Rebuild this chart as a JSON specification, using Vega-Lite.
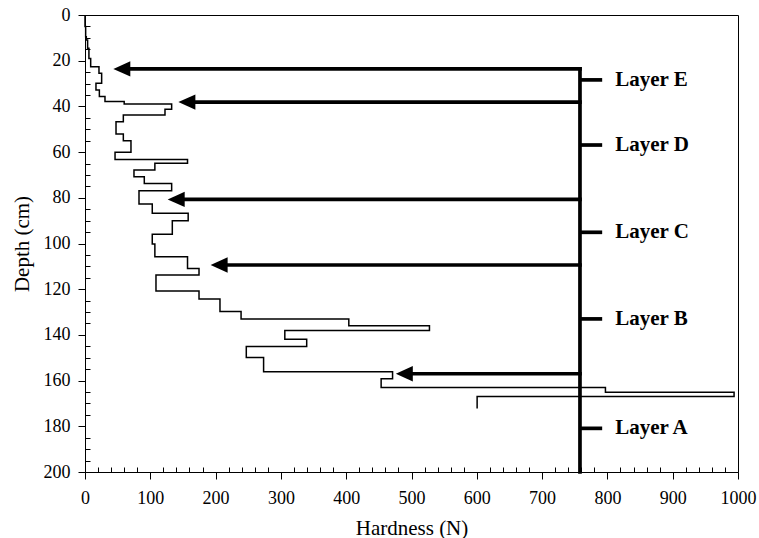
{
  "$schema": "https://vega.github.io/schema/vega-lite/v6.json",
  "width": 653,
  "height": 457,
  "autosize": {"type": "none"},
  "padding": {"left": 85, "top": 15, "right": 21, "bottom": 66},
  "background": "white",
  "view": {"stroke": "black", "strokeWidth": 1},
  "resolve": {"axis": {"x": "independent", "y": "independent"}},
  "datasets": {
    "profile": [
      {"i": 1, "h": 0, "d": 0}, {"i": 2, "h": 0, "d": 5},
      {"i": 3, "h": 1, "d": 5}, {"i": 4, "h": 1, "d": 9.5},
      {"i": 5, "h": 2, "d": 9.5}, {"i": 6, "h": 2, "d": 10.9},
      {"i": 7, "h": 4, "d": 10.9}, {"i": 8, "h": 4, "d": 14.6},
      {"i": 9, "h": 6, "d": 14.6}, {"i": 10, "h": 6, "d": 19},
      {"i": 11, "h": 8.7, "d": 19}, {"i": 12, "h": 8.7, "d": 22.6},
      {"i": 13, "h": 21.4, "d": 22.6}, {"i": 14, "h": 21.4, "d": 25.5},
      {"i": 15, "h": 25.5, "d": 25.5}, {"i": 16, "h": 25.5, "d": 29.9},
      {"i": 17, "h": 16.8, "d": 29.9}, {"i": 18, "h": 16.8, "d": 32.8},
      {"i": 19, "h": 22, "d": 32.8}, {"i": 20, "h": 22, "d": 35.7},
      {"i": 21, "h": 30.6, "d": 35.7}, {"i": 22, "h": 30.6, "d": 37.9},
      {"i": 23, "h": 60, "d": 37.9}, {"i": 24, "h": 60, "d": 39},
      {"i": 25, "h": 132.7, "d": 39}, {"i": 26, "h": 132.7, "d": 41.3},
      {"i": 27, "h": 122.5, "d": 41.3}, {"i": 28, "h": 122.5, "d": 43.8},
      {"i": 29, "h": 58.7, "d": 43.8}, {"i": 30, "h": 58.7, "d": 46.7},
      {"i": 31, "h": 47.5, "d": 46.7}, {"i": 32, "h": 47.5, "d": 52.1},
      {"i": 33, "h": 58.7, "d": 52.1}, {"i": 34, "h": 58.7, "d": 55},
      {"i": 35, "h": 70.4, "d": 55}, {"i": 36, "h": 70.4, "d": 60.1},
      {"i": 37, "h": 46, "d": 60.1}, {"i": 38, "h": 46, "d": 63.2},
      {"i": 39, "h": 157, "d": 63.2}, {"i": 40, "h": 157, "d": 64.9},
      {"i": 41, "h": 107, "d": 64.9}, {"i": 42, "h": 107, "d": 67.8},
      {"i": 43, "h": 75, "d": 67.8}, {"i": 44, "h": 75, "d": 70.8},
      {"i": 45, "h": 90.8, "d": 70.8}, {"i": 46, "h": 90.8, "d": 73.7},
      {"i": 47, "h": 132.7, "d": 73.7}, {"i": 48, "h": 132.7, "d": 76.9},
      {"i": 49, "h": 82.7, "d": 76.9}, {"i": 50, "h": 82.7, "d": 82.7},
      {"i": 51, "h": 103, "d": 82.7}, {"i": 52, "h": 103, "d": 86.8},
      {"i": 53, "h": 158, "d": 86.8}, {"i": 54, "h": 158, "d": 90},
      {"i": 55, "h": 133.7, "d": 90}, {"i": 56, "h": 133.7, "d": 96},
      {"i": 57, "h": 103, "d": 96}, {"i": 58, "h": 103, "d": 100.2},
      {"i": 59, "h": 107, "d": 100.2}, {"i": 60, "h": 107, "d": 105.8},
      {"i": 61, "h": 157, "d": 105.8}, {"i": 62, "h": 157, "d": 110.9},
      {"i": 63, "h": 174.6, "d": 110.9}, {"i": 64, "h": 174.6, "d": 113.8},
      {"i": 65, "h": 108.7, "d": 113.8}, {"i": 66, "h": 108.7, "d": 120.8},
      {"i": 67, "h": 174.6, "d": 120.8}, {"i": 68, "h": 174.6, "d": 124.3},
      {"i": 69, "h": 206.7, "d": 124.3}, {"i": 70, "h": 206.7, "d": 129.8},
      {"i": 71, "h": 239, "d": 129.8}, {"i": 72, "h": 239, "d": 133},
      {"i": 73, "h": 404, "d": 133}, {"i": 74, "h": 404, "d": 136},
      {"i": 75, "h": 527.5, "d": 136}, {"i": 76, "h": 527.5, "d": 138.1},
      {"i": 77, "h": 306, "d": 138.1}, {"i": 78, "h": 306, "d": 141.9},
      {"i": 79, "h": 339.5, "d": 141.9}, {"i": 80, "h": 339.5, "d": 145.1},
      {"i": 81, "h": 247, "d": 145.1}, {"i": 82, "h": 247, "d": 149.9},
      {"i": 83, "h": 273.5, "d": 149.9}, {"i": 84, "h": 273.5, "d": 156.1},
      {"i": 85, "h": 471, "d": 156.1}, {"i": 86, "h": 471, "d": 159.2},
      {"i": 87, "h": 453.5, "d": 159.2}, {"i": 88, "h": 453.5, "d": 163},
      {"i": 89, "h": 797, "d": 163}, {"i": 90, "h": 797, "d": 165.1},
      {"i": 91, "h": 994, "d": 165.1}, {"i": 92, "h": 994, "d": 167},
      {"i": 93, "h": 600.5, "d": 167}, {"i": 94, "h": 600.5, "d": 172.2}
    ],
    "arrows": [
      {"tip": 43.4, "base": 63.4, "end": 758, "d": 23.6},
      {"tip": 143, "base": 163, "end": 758, "d": 38.1},
      {"tip": 126.6, "base": 146.6, "end": 758, "d": 80.7},
      {"tip": 192.4, "base": 212.4, "end": 758, "d": 109.4},
      {"tip": 476, "base": 496, "end": 758, "d": 157}
    ],
    "spine": [
      {"x": 758, "d0": 23.6, "d1": 200}
    ],
    "layers": [
      {"name": "Layer E", "d": 28.4, "x0": 758, "x1": 792, "tx": 812},
      {"name": "Layer D", "d": 56.9, "x0": 758, "x1": 792, "tx": 812},
      {"name": "Layer C", "d": 95.1, "x0": 758, "x1": 792, "tx": 812},
      {"name": "Layer B", "d": 133, "x0": 758, "x1": 792, "tx": 812},
      {"name": "Layer A", "d": 180.9, "x0": 758, "x1": 792, "tx": 812}
    ]
  },
  "layer": [
    {
      "data": {"name": "profile"},
      "mark": {"type": "line", "color": "black", "strokeWidth": 1.5, "strokeJoin": "miter"},
      "encoding": {
        "x": {
          "field": "h", "type": "quantitative", "title": "Hardness (N)",
          "scale": {"domain": [0, 1000], "nice": false, "zero": false},
          "axis": {
            "orient": "bottom",
            "values": [0,100,200,300,400,500,600,700,800,900,1000],
            "format": "d",
            "tickSize": 7,
            "grid": false,
            "domainColor": "black",
            "tickColor": "black",
            "labelColor": "black",
            "labelFont": "Liberation Serif",
            "labelFontSize": 18,
            "labelPadding": 10,
            "labelFlush": false,
            "labelOverlap": false,
            "titleFont": "Liberation Serif",
            "titleFontSize": 21,
            "titleFontWeight": "normal",
            "titleColor": "black",
            "titleX": 326.5,
            "titleY": 62,
            "titleBaseline": "alphabetic"
          }
        },
        "y": {
          "field": "d", "type": "quantitative", "title": "Depth (cm)",
          "scale": {"domain": [0, 200], "reverse": true, "nice": false, "zero": false},
          "axis": {
            "orient": "left",
            "values": [0,20,40,60,80,100,120,140,160,180,200],
            "format": "d",
            "tickSize": 7,
            "grid": false,
            "domainColor": "black",
            "tickColor": "black",
            "labelColor": "black",
            "labelFont": "Liberation Serif",
            "labelFontSize": 18,
            "labelPadding": 8,
            "labelFlush": false,
            "labelOverlap": false,
            "titleFont": "Liberation Serif",
            "titleFontSize": 21,
            "titleFontWeight": "normal",
            "titleColor": "black",
            "titleX": -57,
            "titleY": 228.5,
            "titleAngle": -90,
            "titleAlign": "center",
            "titleBaseline": "alphabetic"
          }
        },
        "order": {"field": "i", "type": "quantitative"}
      }
    },
    {
      "data": {"name": "arrows"},
      "mark": {"type": "rule", "color": "black", "strokeWidth": 3.7, "strokeCap": "square"},
      "encoding": {
        "x": {
          "field": "base", "type": "quantitative",
          "scale": {"domain": [0, 1000], "nice": false, "zero": false},
          "axis": {
            "orient": "bottom",
            "title": null,
            "values": [20,40,60,80,120,140,160,180,220,240,260,280,320,340,360,380,420,440,460,480,520,540,560,580,620,640,660,680,720,740,760,780,820,840,860,880,920,940,960,980],
            "labels": false,
            "domain": false,
            "grid": false,
            "tickSize": -5,
            "tickWidth": 1,
            "tickColor": "black"
          }
        },
        "x2": {"field": "end"},
        "y": {
          "field": "d", "type": "quantitative",
          "scale": {"domain": [0, 200], "reverse": true, "nice": false, "zero": false},
          "axis": {
            "orient": "left",
            "title": null,
            "values": [5,10,15,25,30,35,45,50,55,65,70,75,85,90,95,105,110,115,125,130,135,145,150,155,165,170,175,185,190,195],
            "labels": false,
            "domain": false,
            "grid": false,
            "tickSize": -5,
            "tickWidth": 1,
            "tickColor": "black"
          }
        }
      }
    },
    {
      "data": {"name": "arrows"},
      "mark": {"type": "point", "shape": "M0,0L2,-0.9L2,0.9Z", "size": 289, "filled": true, "color": "black", "opacity": 1, "strokeWidth": 0},
      "encoding": {
        "x": {"field": "tip", "type": "quantitative", "scale": {"domain": [0, 1000], "nice": false, "zero": false}, "axis": null},
        "y": {"field": "d", "type": "quantitative", "scale": {"domain": [0, 200], "reverse": true, "nice": false, "zero": false}, "axis": null}
      }
    },
    {
      "data": {"name": "spine"},
      "mark": {"type": "rule", "color": "black", "strokeWidth": 3.7, "strokeCap": "square"},
      "encoding": {
        "x": {"field": "x", "type": "quantitative", "scale": {"domain": [0, 1000], "nice": false, "zero": false}, "axis": null},
        "y": {"field": "d0", "type": "quantitative", "scale": {"domain": [0, 200], "reverse": true, "nice": false, "zero": false}, "axis": null},
        "y2": {"field": "d1"}
      }
    },
    {
      "data": {"name": "layers"},
      "mark": {"type": "rule", "color": "black", "strokeWidth": 3.7},
      "encoding": {
        "x": {"field": "x0", "type": "quantitative", "scale": {"domain": [0, 1000], "nice": false, "zero": false}, "axis": null},
        "x2": {"field": "x1"},
        "y": {"field": "d", "type": "quantitative", "scale": {"domain": [0, 200], "reverse": true, "nice": false, "zero": false}, "axis": null}
      }
    },
    {
      "data": {"name": "layers"},
      "mark": {"type": "text", "font": "Liberation Serif", "fontWeight": "bold", "fontSize": 21, "align": "left", "baseline": "middle", "color": "black"},
      "encoding": {
        "x": {"field": "tx", "type": "quantitative", "scale": {"domain": [0, 1000], "nice": false, "zero": false}, "axis": null},
        "y": {"field": "d", "type": "quantitative", "scale": {"domain": [0, 200], "reverse": true, "nice": false, "zero": false}, "axis": null},
        "text": {"field": "name"}
      }
    }
  ]
}
